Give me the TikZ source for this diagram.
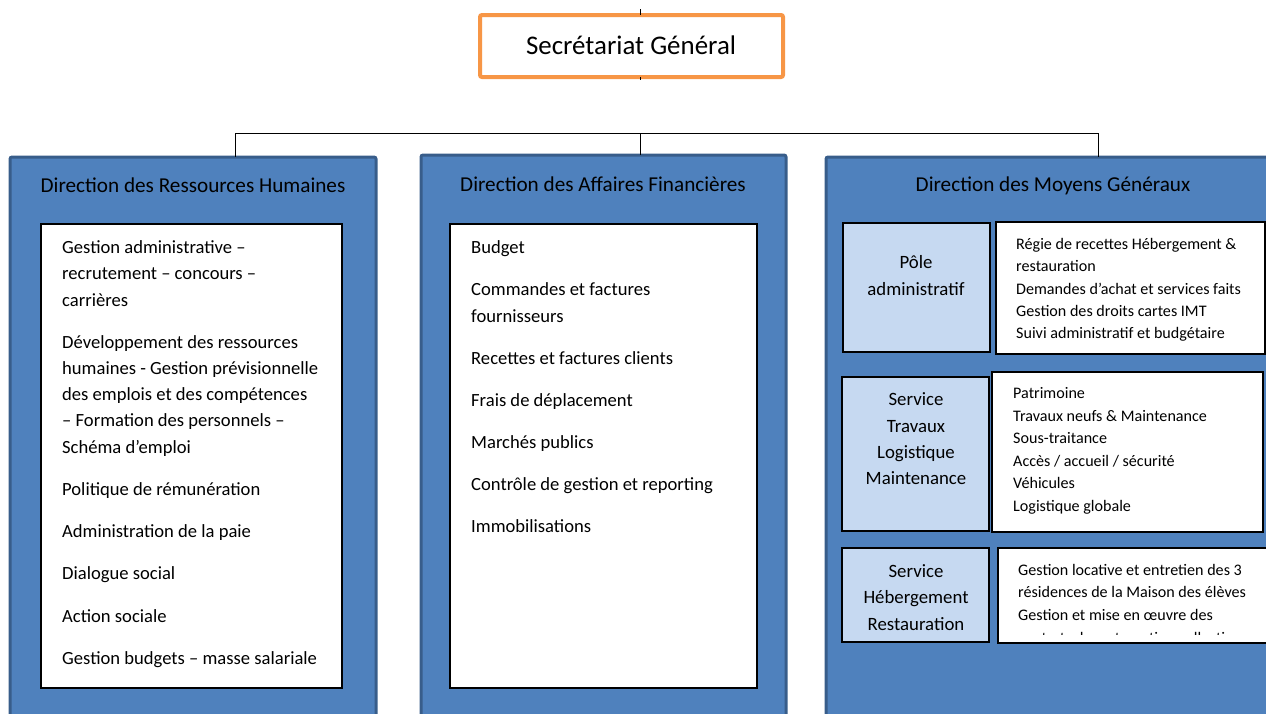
\documentclass[tikz,border=0pt]{standalone}
\usepackage{fontspec}
\setmainfont{Carlito}
\definecolor{dblue}{HTML}{4F81BD}
\definecolor{bblue}{HTML}{385D8A}
\definecolor{lblue}{HTML}{C6D9F1}
\definecolor{orng}{HTML}{F79646}
\begin{document}
\begin{tikzpicture}[x=1pt,y=-1pt,
  dirbox/.style={draw=bblue,fill=dblue,line width=3pt,rounded corners=2pt,anchor=north west,inner sep=0pt,outer sep=0pt},
  whitebox/.style={draw=black,fill=white,line width=1.5pt,anchor=north west,inner sep=0pt,outer sep=0pt},
  svcbox/.style={draw=black,fill=lblue,line width=1.5pt,anchor=north west,inner sep=0pt,outer sep=0pt},
  ttl/.style={font=\fontsize{21.2}{25}\selectfont,inner sep=0pt},
  itm/.style={font=\fontsize{18.6}{22}\selectfont,anchor=base west,inner sep=0pt},
  sitm/.style={font=\fontsize{16.1}{19}\selectfont,anchor=base west,inner sep=0pt},
  svc/.style={font=\fontsize{18.8}{22}\selectfont,anchor=base,inner sep=0pt},
  conn/.style={draw=black,line width=1pt}]
\useasboundingbox (0,0) rectangle (1266,713);

% Secretariat
\node[draw=orng,line width=4pt,rounded corners=2pt,fill=white,anchor=north west,minimum width=303pt,minimum height=62pt,inner sep=0pt,outer sep=0pt] (sg) at (480,15) {};
\node[font=\fontsize{26.9}{30}\selectfont,inner sep=0pt] (sgt) at (631,45) {Secrétariat Général};
\coordinate (top) at (640,9);
\coordinate (tick) at (640,80);
\coordinate (hl) at (235,133);
\coordinate (hm) at (640,133);
\coordinate (hr) at (1098,133);

% Direction boxes
\node[dirbox,minimum width=366pt,minimum height=570pt] (drh) at (10,157) {};
\node[dirbox,minimum width=365pt,minimum height=572pt] (daf) at (421,155) {};
\node[dirbox,minimum width=460pt,minimum height=570pt] (dmg) at (826,157) {};

\draw[conn] (top) -- (sg.north -| top);
\draw[conn] (sg.south -| tick) -- (tick);
\draw[conn] (hl) -- (hr);
\draw[conn] (hl) -- (hl |- drh.north);
\draw[conn] (hm) -- (hm |- daf.north);
\draw[conn] (hr) -- (hr |- dmg.north);

\node[ttl] (drht) at (193,185) {Direction des Ressources Humaines};
\node[ttl] (daft) at (603,184) {Direction des Affaires Financières};
\node[ttl] (dmgt) at (1053,186) {Direction des Moyens Généraux};

% DRH list
\node[whitebox,minimum width=301pt,minimum height=464pt] (drhw) at (41,224) {};
\foreach \t/\y [count=\i] in {Gestion administrative –/253, recrutement – concours –/279, carrières/306,
  Développement des ressources/348, humaines - Gestion prévisionnelle/374, des emplois et des compétences/400,
  – Formation des personnels –/426, Schéma d’emploi/453, Politique de rémunération/495,
  Administration de la paie/537, Dialogue social/579, Action sociale/622, Gestion budgets – masse salariale/664}
  \node[itm] (drhl\i) at (62,\y) {\t};

% DAF list
\node[whitebox,minimum width=307pt,minimum height=464pt] (dafw) at (450,224) {};
\foreach \t/\y [count=\i] in {Budget/253, Commandes et factures/295, fournisseurs/322,
  Recettes et factures clients/364, Frais de déplacement/406, Marchés publics/448,
  Contrôle de gestion et reporting/490, Immobilisations/532}
  \node[itm] (dafl\i) at (471,\y) {\t};

% DMG
\node[svcbox,minimum width=147pt,minimum height=129pt] (pa) at (843,223) {};
\node[svc] (pa1) at (916,268) {Pôle};
\node[svc] (pa2) at (916,295) {administratif};
\node[whitebox,minimum width=269pt,minimum height=132pt] (t1) at (996,222) {};
\foreach \t/\y [count=\i] in {Régie de recettes Hébergement \&/249.5, restauration/271.5,
  Demandes d’achat et services faits/294.5, Gestion des droits cartes IMT/316.5, Suivi administratif et budgétaire/338.5}
  \node[sitm] (t1l\i) at (1016,\y) {\t};

\node[svcbox,minimum width=147pt,minimum height=154pt] (st) at (842,377) {};
\foreach \t/\y [count=\i] in {Service/405, Travaux/432, Logistique/458, Maintenance/484}
  \node[svc] (stl\i) at (916,\y) {\t};
\node[whitebox,minimum width=271pt,minimum height=160pt] (t2) at (992,372) {};
\foreach \t/\y [count=\i] in {Patrimoine/398.5, Travaux neufs \& Maintenance/421.5, Sous-traitance/443.5,
  {Accès / accueil / sécurité}/466.5, Véhicules/488.5, Logistique globale/511.5}
  \node[sitm] (t2l\i) at (1013,\y) {\t};

\node[svcbox,minimum width=147pt,minimum height=94pt] (sh) at (842,548) {};
\foreach \t/\y [count=\i] in {Service/577, Hébergement/603, Restauration/630}
  \node[svc] (shl\i) at (916,\y) {\t};
\node[whitebox,minimum width=277pt,minimum height=95pt] (t3) at (998,548) {};
\foreach \t/\y [count=\i] in {Gestion locative et entretien des 3/575.5, résidences de la Maison des élèves/597.5,
  Gestion et mise en œuvre des/620.5}
  \node[sitm] (t3l\i) at (1018,\y) {\t};
\begin{scope}
  \clip (998,548) rectangle (1266,634);
  \node[sitm] (t3l4) at (1018,643) {contrats de restauration collective};
\end{scope}
\end{tikzpicture}
\end{document}
